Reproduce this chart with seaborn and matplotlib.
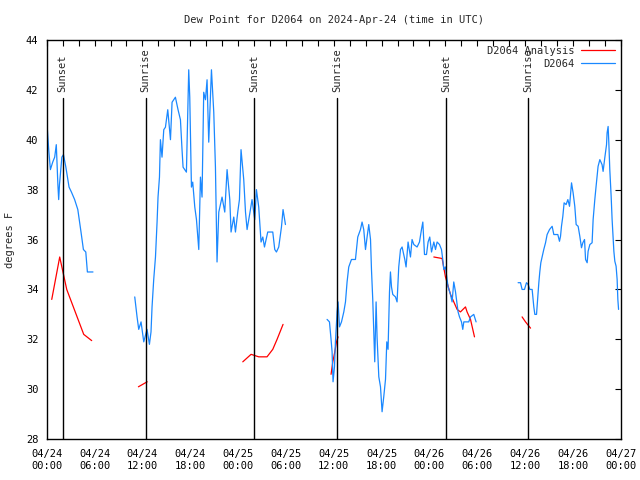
import numpy as np
import pandas as pd
import matplotlib
matplotlib.use("Agg")
import matplotlib.pyplot as plt
import matplotlib.dates as mdates
from matplotlib.lines import Line2D
import seaborn as sns

start = pd.Timestamp("2024-04-24 00:00")
gap = np.nan

# observed dew point (hours since 04/24 00:00), gaps split the segments
blue_hours = [0.04, 0.25, 0.46, 0.75, 1.0, 1.2, 1.4, 1.5, 1.6, 1.9, 2.1, 2.4, 2.8, 3.1, 3.5,
              3.9, 4.3, 4.6, 4.9, 5.1, 5.8, gap,
              11.04, 11.33, 11.54, 11.83, 12.17, 12.58, 12.88, 13.08, 13.21, 13.42, 13.64,
              13.84, 13.96, 14.14, 14.26, 14.46, 14.68, 14.89, 15.18, 15.52, 15.72, 16.14,
              16.47, 16.77, 16.97, 17.10, 17.52, 17.81, 17.94, 18.15, 18.31, 18.57, 18.78,
              19.07, 19.28, 19.48, 19.69, 19.91, 20.11, 20.32, 20.66, 20.95, 21.16, 21.36,
              21.58, 21.99, 22.33, 22.62, 22.96, 23.12, 23.46, 23.67, 23.96, 24.17, 24.37,
              24.71, 24.93, 25.13, 25.55, 25.75, 26.09, 26.30, 26.59, 26.88, 27.10, 27.31,
              27.72, 28.35, 28.60, 28.81, 29.10, 29.44, 29.64, 29.94, gap,
              35.16, 35.46, 35.66, 35.79, 35.91, 36.09, 36.21, 36.42, 36.54, 36.72, 36.97,
              37.26, 37.47, 37.67, 37.88, 38.22, 38.72, 39.01, 39.35, 39.55, 39.76, 39.98,
              40.18, 40.39, 40.61, 40.73, 40.89, 41.02, 41.14, 41.31, 41.43, 41.65, 41.86,
              42.06, 42.27, 42.49, 42.65, 42.81, 42.99, 43.11, 43.24, 43.40, 43.74, 43.94,
              44.15, 44.37, 44.57, 44.91, 45.07, 45.32, 45.62, 45.82, 46.04, 46.45, 46.75,
              47.00, 47.17, 47.38, 47.63, 47.83, 48.04, 48.26, 48.55, 48.76, 48.96, 49.26,
              49.51, 49.67, 49.80, 50.01, 50.21, 50.34, 50.64, 50.84, 51.05, 51.27, 51.59,
              51.77, 52.02, 52.18, 52.31, 52.93, 53.15, 53.56, 53.85, gap,
              59.12, 59.42, 59.62, 59.92, 60.17, 60.38, 60.59, 60.88, 61.09, 61.22, 61.43,
              61.59, 61.72, 61.84, 61.97, 62.13, 62.34, 62.56, 62.76, 63.06, 63.39, 63.60,
              64.10, 64.31, 64.44, 64.56, 64.73, 64.89, 65.14, 65.36, 65.57, 65.82, 66.02,
              66.23, 66.40, 66.65, 66.86, 67.07, 67.24, 67.45, 67.58, 67.78, 67.90, 68.12,
              68.40, 68.53, 68.74, 68.90, 69.15, 69.37, 69.65, 69.78, 69.99, 70.21, 70.28,
              70.41, 70.50, 70.62, 70.79, 70.91, 71.13, 71.25, 71.41, 71.54, 71.63, 71.72]
blue_vals = [40.6, 39.6, 38.8, 39.1, 39.3, 39.8, 38.2, 37.6, 38.2, 39.3, 39.4, 38.9, 38.1, 37.9, 37.6,
             37.2, 36.3, 35.6, 35.5, 34.7, 34.7, gap,
             33.7, 32.9, 32.4, 32.7, 31.9, 32.4, 31.8, 32.3, 33.3, 34.4, 35.3,
             36.7, 37.7, 38.5, 40.0, 39.3, 40.4, 40.5, 41.2, 40.0, 41.5, 41.7,
             41.2, 40.8, 39.6, 38.9, 38.7, 42.8, 41.7, 38.1, 38.3, 37.3, 36.8,
             35.6, 38.5, 37.7, 41.9, 41.6, 42.4, 39.9, 42.8, 41.1, 38.9, 35.1,
             37.1, 37.7, 37.1, 38.8, 37.6, 36.3, 36.9, 36.3, 37.1, 37.6, 39.6,
             38.4, 37.1, 36.4, 37.2, 37.6, 36.8, 38.0, 37.3, 35.9, 36.1, 35.7,
             36.3, 36.3, 35.6, 35.5, 35.7, 36.5, 37.2, 36.6, gap,
             32.8, 32.7, 32.0, 31.5, 30.3, 30.9, 31.9, 33.1, 33.5, 32.5, 32.7,
             33.1, 33.5, 34.3, 34.9, 35.2, 35.2, 36.1, 36.4, 36.7, 36.4, 35.6,
             36.1, 36.6, 36.0, 34.8, 33.6, 32.3, 31.1, 33.5, 32.1, 30.5, 30.1,
             29.1, 29.7, 30.4, 31.9, 31.6, 33.9, 34.7, 34.1, 33.8, 33.7, 33.5,
             34.9, 35.6, 35.7, 35.2, 34.9, 35.9, 35.3, 36.0, 35.8, 35.7, 35.9,
             36.4, 36.7, 35.4, 35.4, 35.9, 36.1, 35.5, 35.9, 35.6, 35.9, 35.8,
             35.6, 35.2, 34.8, 34.9, 34.4, 34.1, 33.8, 33.5, 34.3, 33.9, 33.1,
             32.9, 32.7, 32.4, 32.7, 32.7, 32.9, 33.0, 32.7, gap,
             34.27, 34.27, 34.0, 34.0, 34.27, 34.2, 34.0, 34.0, 33.3, 33.0, 33.0,
             33.7, 34.27, 34.7, 35.07, 35.3, 35.6, 35.87, 36.2, 36.4, 36.53, 36.2,
             36.2, 35.93, 36.13, 36.53, 36.93, 37.47, 37.4, 37.6, 37.33, 38.27, 37.87,
             37.33, 36.6, 36.53, 36.13, 35.67, 35.87, 36.0, 35.2, 35.07, 35.53, 35.8,
             35.87, 36.8, 37.6, 38.13, 38.93, 39.2, 39.0, 38.73, 39.27, 39.8, 40.27,
             40.53, 39.87, 38.8, 37.73, 36.8, 35.53, 35.13, 34.93, 34.4, 33.6, 33.2]

# analysis dew point
red_hours = [0.63, 1.63, 2.51, 4.64, 5.64, gap,
             11.5, 12.6, gap,
             24.59, 25.63, 26.59, 27.63, 28.35, 28.89, 29.64, gap,
             35.66, 35.88, 36.13, 36.34, 36.54, gap,
             48.55, 49.59, 50.01, 50.64, 51.47, 51.89, 52.52, 52.72, 53.15, 53.65, gap,
             59.62, 60.05, 60.68]
red_vals = [33.6, 35.3, 34.0, 32.2, 31.95, gap,
            30.1, 30.3, gap,
            31.1, 31.4, 31.3, 31.3, 31.6, 32.0, 32.6, gap,
            30.6, 31.1, 31.5, 31.9, 32.1, gap,
            35.3, 35.24, 34.5, 33.8, 33.2, 33.1, 33.3, 33.1, 32.8, 32.1, gap,
            32.9, 32.7, 32.45]

sun_labels = ["Sunset", "Sunrise", "Sunset", "Sunrise", "Sunset", "Sunrise"]
sun_hours = [2.0, 12.4, 26.05, 36.4, 50.05, 60.4]


def to_frame(hours, vals):
    df = pd.DataFrame({"hour": hours, "dewpt": vals})
    df["seg"] = df["hour"].isna().cumsum()
    df = df.dropna()
    df["time"] = start + pd.to_timedelta(df["hour"], unit="h")
    return df


red_df = to_frame(red_hours, red_vals)
blue_df = to_frame(blue_hours, blue_vals)

sns.set_style("white")
plt.rcParams["font.family"] = ["DejaVu Sans Mono", "DejaVu Sans"]
plt.rcParams["font.size"] = 7.5

fig, ax = plt.subplots(figsize=(6.4, 4.8), dpi=100)
fig.subplots_adjust(left=0.073, right=0.970, top=0.917, bottom=0.085)

red_c = "#ff0000"
blue_c = "#1a88ff"

sns.lineplot(data=red_df, x="time", y="dewpt", units="seg", estimator=None, sort=False,
             color=red_c, lw=0.9, ax=ax)
sns.lineplot(data=blue_df, x="time", y="dewpt", units="seg", estimator=None, sort=False,
             color=blue_c, lw=0.9, ax=ax)

for lab, h in zip(sun_labels, sun_hours):
    t = start + pd.Timedelta(hours=h)
    ax.plot([t, t], [28, 41.68], color="black", lw=1.0, zorder=3)
    ax.text(t, 41.9, lab, rotation=90, ha="center", va="bottom", fontsize=7.5)

ax.set_xlim(start, start + pd.Timedelta(hours=72))
ax.set_ylim(28, 44)
ax.set_yticks(np.arange(28, 45, 2))
ax.xaxis.set_major_locator(mdates.HourLocator(byhour=[0, 6, 12, 18]))
ax.xaxis.set_major_formatter(mdates.DateFormatter("%m/%d\n%H:%M"))
ax.xaxis.set_minor_locator(mdates.HourLocator(byhour=range(0, 24, 2)))
ax.tick_params(axis="both", which="both", direction="in", top=True, right=True,
               length=4, width=0.8, colors="black", labelsize=7.5)
ax.tick_params(axis="x", which="major", pad=7)
ax.tick_params(axis="y", which="major", pad=6)
for s in ax.spines.values():
    s.set_color("black")
    s.set_linewidth(1.0)

ax.set_xlabel("")
ax.set_ylabel("degrees F", fontsize=7.5, labelpad=8)
ax.set_title("Dew Point for D2064 on 2024-Apr-24 (time in UTC)", fontsize=7.5, pad=12)

handles = [Line2D([], [], color=red_c, lw=0.9), Line2D([], [], color=blue_c, lw=0.9)]
ax.legend(handles, ["D2064 Analysis", "D2064"], loc="upper right", markerfirst=False,
          frameon=False, fontsize=7.5, handlelength=3.2, handletextpad=0.6,
          borderaxespad=0.2, labelspacing=0.25)

fig.savefig("out.png", dpi=100)
